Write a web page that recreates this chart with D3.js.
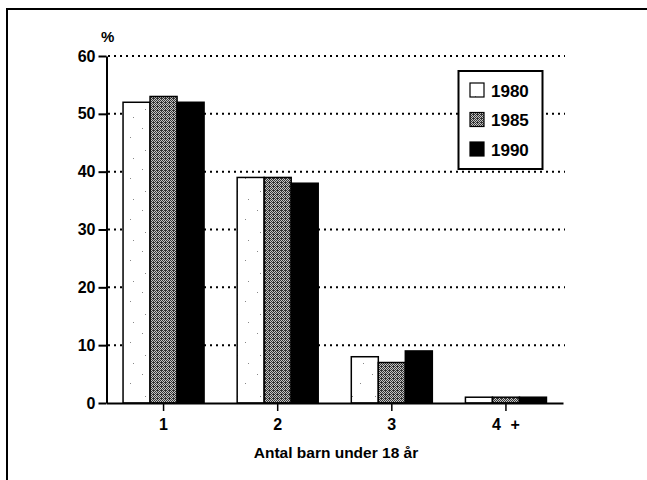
<!DOCTYPE html>
<html><head><meta charset="utf-8">
<script src="https://cdn.jsdelivr.net/npm/d3@7"></script>
<style>body{margin:0;background:#fff}svg{display:block}</style>
</head><body>
<script>
const categories = ["1", "2", "3", "4 +"];
const seriesNames = ["1980", "1985", "1990"];
const values1980 = [52, 39, 8, 1];
const values1985 = [53, 39, 7, 1];
const values1990 = [52, 38, 9, 1];
const yTicks = [0, 10, 20, 30, 40, 50, 60];
const yLabel = "%";
const xTitle = "Antal barn under 18 år";

const W = 647, H = 480;
const svg = d3.select("body").append("svg").attr("width", W).attr("height", H);
const font = "'Liberation Sans', Arial, Helvetica, sans-serif";

const defs = svg.append("defs");
// 1980: white with sparse specks
const p1 = defs.append("pattern").attr("id", "p1980").attr("patternUnits", "userSpaceOnUse")
  .attr("width", 23).attr("height", 41);
p1.append("rect").attr("width", 23).attr("height", 41).attr("fill", "#fff");
[[4,5],[15,14],[7,27],[18,35]].forEach(([x,y]) =>
  p1.append("rect").attr("x", x).attr("y", y).attr("width", 1).attr("height", 1).attr("fill", "#888"));
// 1985: dithered dark grey
const p2 = defs.append("pattern").attr("id", "p1985").attr("patternUnits", "userSpaceOnUse")
  .attr("width", 4).attr("height", 4);
p2.append("rect").attr("width", 4).attr("height", 4).attr("fill", "#c4c4c4");
[[0,0],[2,0],[1,1],[3,1],[0,2],[2,2],[1,3],[3,3],[1,2]].forEach(([x,y]) =>
  p2.append("rect").attr("x", x).attr("y", y).attr("width", 1).attr("height", 1).attr("fill", "#333"));
const fills = ["url(#p1980)", "url(#p1985)", "#000"];

// frame
svg.append("path").attr("d", "M7,480 L7,9 L647,9").attr("fill", "none")
  .attr("stroke", "#000").attr("stroke-width", 2);

const x0 = d3.scaleBand().domain(categories).range([106.5, 563]).paddingInner(0.29).paddingOuter(0.145);
const x1 = d3.scaleBand().domain(seriesNames).range([0, x0.bandwidth()]);
const y = d3.scaleLinear().domain([0, 60]).range([403, 56]);

// gridlines
svg.append("g").selectAll("line").data(yTicks.filter(d => d > 0)).join("line")
  .attr("x1", 108).attr("x2", 565).attr("y1", d => y(d)).attr("y2", d => y(d))
  .attr("stroke", "#000").attr("stroke-width", 2).attr("stroke-dasharray", "2,4");

// bars
const data = categories.map((c, i) => ({c, v: [values1980[i], values1985[i], values1990[i]]}));
const g = svg.append("g");
data.forEach(d => {
  seriesNames.forEach((s, j) => {
    g.append("rect")
      .attr("x", x0(d.c) + x1(s)).attr("y", y(d.v[j]))
      .attr("width", x1.bandwidth()).attr("height", y(0) - y(d.v[j]))
      .attr("fill", fills[j]).attr("stroke", "#000").attr("stroke-width", 1.5);
  });
});

// y axis
const yAxis = svg.append("g").attr("transform", "translate(106.5,0)")
  .call(d3.axisLeft(y).tickValues(yTicks).tickSize(8).tickSizeOuter(0));
yAxis.select(".domain").attr("stroke-width", 2);
yAxis.selectAll(".tick line").attr("stroke-width", 2);
yAxis.selectAll("text").attr("font-family", font).attr("font-size", 16).attr("font-weight", "bold")
  .attr("x", -11).attr("fill", "#000");

// x axis
const xAxis = svg.append("g").attr("transform", "translate(0,403)")
  .call(d3.axisBottom(x0).tickSize(8).tickSizeOuter(0));
xAxis.select(".domain").attr("stroke-width", 2);
xAxis.selectAll(".tick line").attr("stroke-width", 1.5);
xAxis.selectAll("text").attr("font-family", font).attr("font-size", 16).attr("font-weight", "bold")
  .attr("y", 16).attr("fill", "#000").attr("word-spacing", 5);

svg.append("text").attr("x", 101).attr("y", 42).text(yLabel)
  .attr("font-family", font).attr("font-size", 15).attr("font-weight", "bold");
svg.append("text").attr("x", 336).attr("y", 458).attr("text-anchor", "middle").text(xTitle)
  .attr("font-family", font).attr("font-size", 15.5).attr("font-weight", "bold");

// legend
const lg = svg.append("g");
lg.append("rect").attr("x", 458.5).attr("y", 71).attr("width", 84).attr("height", 98)
  .attr("fill", "#fff").attr("stroke", "#000").attr("stroke-width", 2);
seriesNames.forEach((s, j) => {
  const yy = 83 + j * 29.5;
  lg.append("rect").attr("x", 470).attr("y", yy).attr("width", 14).attr("height", 14)
    .attr("fill", fills[j]).attr("stroke", "#000").attr("stroke-width", 1.2);
  lg.append("text").attr("x", 491).attr("y", yy + 13.5).text(s)
    .attr("font-family", font).attr("font-size", 17).attr("font-weight", "bold");
});
</script>
</body></html>
